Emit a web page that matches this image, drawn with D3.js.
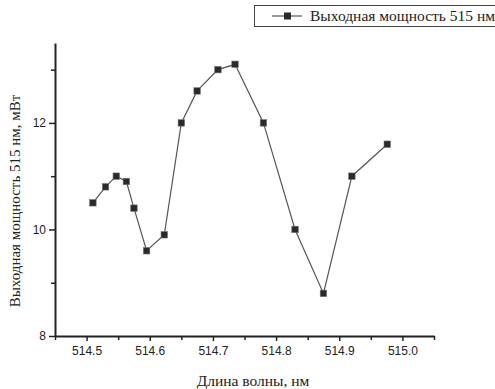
<!DOCTYPE html>
<html>
<head>
<meta charset="utf-8">
<script src="https://cdn.jsdelivr.net/npm/d3@7"></script>
<style>
  body { margin: 0; background: #fff; }
  svg { display: block; }
  .tick text { font-family: "Liberation Sans", Arial, sans-serif; font-size: 12px; fill: #222; }
  .lbl { font-family: "Liberation Serif", "DejaVu Serif", serif; fill: #222; }
</style>
</head>
<body>
<svg width="495" height="389"></svg>
<script>
// wavelength, nm
const wavelength = [514.51, 514.53, 514.547, 514.563, 514.575, 514.595, 514.623, 514.65, 514.675,
  514.708, 514.735, 514.78, 514.83, 514.875, 514.92, 514.976];
// output power, mW
const power = [10.5, 10.8, 11.0, 10.9, 10.4, 9.6, 9.9, 12.0, 12.6, 13.0, 13.1, 12.0, 10.0, 8.8, 11.0, 11.6];
const xTicks = [514.5, 514.6, 514.7, 514.8, 514.9, 515.0];
const yTicks = [8, 10, 12];
const seriesName = "Выходная мощность 515 нм";

const margin = { top: 43, right: 61, bottom: 53, left: 55 }
  , width = 495 - margin.left - margin.right
  , height = 389 - margin.top - margin.bottom;

const x = d3.scaleLinear().domain([514.45, 515.05]).range([0, width]);
const y = d3.scaleLinear().domain([8, 13.5]).range([height, 0]);

const svg = d3.select("svg");
const g = svg.append("g").attr("transform", "translate(" + margin.left + "," + margin.top + ")");

// minor ticks
g.append("g")
  .attr("transform", "translate(0," + height + ")")
  .call(d3.axisBottom(x).tickValues(d3.range(514.45, 515.06, 0.1)).tickSize(4).tickFormat(""))
  .call(a => a.select(".domain").remove());
g.append("g")
  .call(d3.axisLeft(y).tickValues([9, 11, 13]).tickSize(4).tickFormat(""))
  .call(a => a.select(".domain").remove());

g.append("g")
  .attr("transform", "translate(0," + height + ")")
  .call(d3.axisBottom(x).tickValues(xTicks).tickSize(5).tickPadding(5).tickFormat(d3.format(".1f")).tickSizeOuter(0));
g.append("g")
  .call(d3.axisLeft(y).tickValues(yTicks).tickSize(6).tickPadding(3).tickFormat(d3.format("d")).tickSizeOuter(0));

g.selectAll(".domain").attr("stroke", "#222").attr("stroke-width", 2);
g.selectAll(".tick line").attr("stroke", "#222").attr("stroke-width", 1.5);

const line = d3.line()
  .x((d, i) => x(wavelength[i]))
  .y(d => y(d));

g.append("path")
  .datum(power)
  .attr("fill", "none")
  .attr("stroke", "#555")
  .attr("stroke-width", 1.2)
  .attr("d", line);

g.selectAll(".dot")
  .data(power)
  .enter().append("rect")
  .attr("class", "dot")
  .attr("x", (d, i) => x(wavelength[i]) - 3.25)
  .attr("y", d => y(d) - 3.25)
  .attr("width", 6.5)
  .attr("height", 6.5)
  .attr("fill", "#2a2a2a")
  .attr("stroke", "#777")
  .attr("stroke-width", 0.6);

// axis titles
svg.append("text")
  .attr("class", "lbl")
  .attr("x", 253).attr("y", 386)
  .attr("text-anchor", "middle")
  .style("font-size", "15.5px")
  .text("Длина волны, нм");

svg.append("text")
  .attr("class", "lbl")
  .attr("transform", "translate(20,201) rotate(-90)")
  .attr("text-anchor", "middle")
  .style("font-size", "15px")
  .text("Выходная мощность 515 нм, мВт");

// legend
const lg = svg.append("g");
lg.append("rect")
  .attr("x", 254.5).attr("y", 5.5).attr("width", 250).attr("height", 21)
  .attr("fill", "#fff").attr("stroke", "#444").attr("stroke-width", 1);
lg.append("line")
  .attr("x1", 272).attr("x2", 302).attr("y1", 16).attr("y2", 16)
  .attr("stroke", "#555").attr("stroke-width", 1.2);
lg.append("rect")
  .attr("x", 284).attr("y", 12.5).attr("width", 7).attr("height", 7)
  .attr("fill", "#2a2a2a");
lg.append("text")
  .attr("class", "lbl")
  .attr("x", 310).attr("y", 21)
  .style("font-size", "15.5px")
  .text(seriesName);
</script>
</body>
</html>
